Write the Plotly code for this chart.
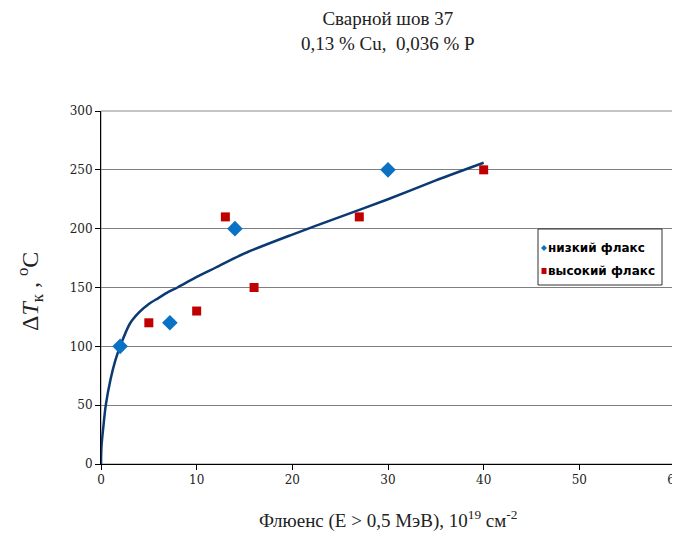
import plotly.graph_objects as go

# Data
series_names = ["низкий флакс", "высокий флакс"]
low_x = [2, 7.2, 14, 30]
low_y = [100, 120, 200, 250]
high_x = [5, 10, 13, 16, 27, 40]
high_y = [120, 130, 210, 150, 210, 250]
fit_x = [0, 0.05, 0.25, 0.5, 1, 1.5, 2, 3, 4, 5, 6, 7, 8, 10, 12, 15, 20, 25, 30, 35, 40]
fit_y = [0, 15, 32, 50, 72, 88, 100, 119, 129, 136, 141, 146, 150, 159, 167, 179, 195, 210, 225, 241, 256]

x_ticks = [0, 10, 20, 30, 40, 50, 60]
y_ticks = [0, 50, 100, 150, 200, 250, 300]

BLUE = "#0A72C4"
RED = "#C00000"

# page body adds an 8px offset; figure coordinates compensate for it
OFF = 8
W, H = 680 - OFF, 543 - OFF
L, T, R, B = 101 - OFF, 111 - OFF, 5, 79
PW, PH = W - L - R, H - T - B


def px_x(px):
    return (px - OFF - L) / PW


def px_y(py):
    return 1 - (py - OFF - T) / PH


fig = go.Figure()
fig.add_trace(go.Scatter(x=fit_x, y=fit_y, mode="lines",
                         line=dict(color="#0B3A73", width=2.5, shape="spline", smoothing=0.8),
                         showlegend=False, hoverinfo="skip"))
fig.add_trace(go.Scatter(x=low_x, y=low_y, mode="markers", name=series_names[0], showlegend=False,
                         marker=dict(symbol="diamond", size=12, color=BLUE)))
fig.add_trace(go.Scatter(x=high_x, y=high_y, mode="markers", name=series_names[1], showlegend=False,
                         marker=dict(symbol="square", size=9, color=RED)))

serif = "Liberation Serif, Times New Roman, serif"
tickserif = "DejaVu Serif, serif"
legfont = dict(family="DejaVu Sans, Verdana, sans-serif", size=12, color="black", weight="bold")

# legend box (drawn as shapes and annotations)
lx0, lx1, ly0, ly1 = 538, 662, 229, 285
row_y = [248, 271]
mx = 544
shapes = [
    dict(type="rect", xref="paper", yref="paper", x0=0, x1=1, y0=0, y1=1,
         line=dict(color="#8c8c8c", width=1), layer="below"),
    dict(type="rect", xref="paper", yref="paper", x0=px_x(lx0), x1=px_x(lx1), y0=px_y(ly1), y1=px_y(ly0),
         line=dict(color="#333", width=1), fillcolor="white", layer="above"),
    dict(type="path", xref="paper", yref="paper",
         path="M {a},{b} L {c},{d} L {a},{e} L {f},{d} Z".format(
             a=px_x(mx), b=px_y(row_y[0] - 3), c=px_x(mx + 3), d=px_y(row_y[0]), e=px_y(row_y[0] + 3),
             f=px_x(mx - 3)),
         line=dict(width=0), fillcolor=BLUE, layer="above"),
    dict(type="rect", xref="paper", yref="paper", x0=px_x(mx - 2.5), x1=px_x(mx + 2.5),
         y0=px_y(row_y[1] + 3), y1=px_y(row_y[1] - 3), line=dict(width=0), fillcolor=RED, layer="above"),
]

annotations = [
    dict(text="Сварной шов 37<br>0,13 % Cu,  0,036 % P", xref="paper", yref="paper",
         x=px_x(388), y=px_y(31), xanchor="center", yanchor="middle", showarrow=False,
         font=dict(family=serif, size=19, color="#222")),
    dict(text="Δ<i>T</i><sub>к</sub> , <sup>o</sup>C", xref="paper", yref="paper",
         x=px_x(30), y=px_y(292), xanchor="center", yanchor="middle", textangle=-90, showarrow=False,
         font=dict(family=serif, size=24, color="#222")),
    dict(text="Флюенс (E > 0,5 МэВ), 10<sup>19</sup> см<sup>-2</sup>", xref="paper", yref="paper",
         x=px_x(388), y=px_y(519), xanchor="center", yanchor="middle",
         showarrow=False, font=dict(family=serif, size=19, color="#222")),
]
for name, ry in zip(series_names, row_y):
    annotations.append(dict(text=name, xref="paper", yref="paper", x=px_x(548), y=px_y(ry),
                            xanchor="left", yanchor="middle", showarrow=False, font=legfont,
                            xshift=-2))

fig.update_layout(
    width=W, height=H,
    margin=dict(l=L, r=R, t=T, b=B, autoexpand=False),
    paper_bgcolor="white", plot_bgcolor="white",
    showlegend=False,
    xaxis=dict(range=[0, 60], tickvals=x_ticks, showgrid=False, showline=True, linecolor="black", linewidth=1,
               ticks="outside", ticklen=5, tickcolor="black", zeroline=False, automargin=False,
               ticklabeloverflow="allow",
               tickfont=dict(family=tickserif, size=12, color="#222")),
    yaxis=dict(range=[0, 300], tickvals=y_ticks, showgrid=True, gridcolor="#7f7f7f", gridwidth=1,
               showline=True, linecolor="black", linewidth=1, ticks="outside", ticklen=5, tickcolor="black",
               zeroline=False, automargin=False, tickfont=dict(family=tickserif, size=12, color="#222")),
    shapes=shapes,
    annotations=annotations,
)

fig.write_html("out.html")
